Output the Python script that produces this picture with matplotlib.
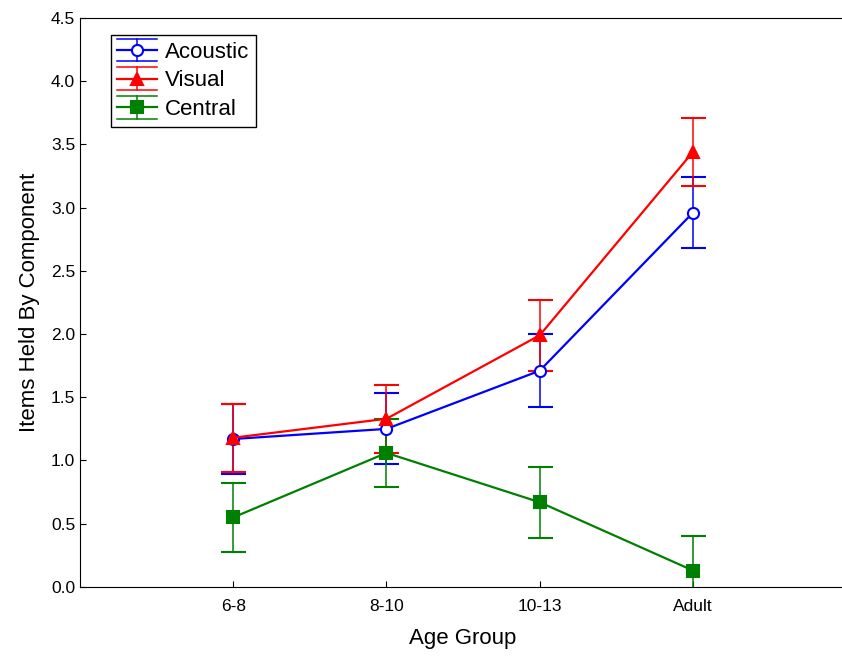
import matplotlib
matplotlib.use("Agg")
import matplotlib.pyplot as plt
from matplotlib.lines import Line2D
from matplotlib.legend_handler import HandlerBase
import numpy as np

plt.rcParams['font.family'] = ['Liberation Sans', 'DejaVu Sans']

groups = ["6-8", "8-10", "10-13", "Adult"]

acoustic = [1.17, 1.25, 1.71, 2.96]
acoustic_err = [0.28, 0.28, 0.29, 0.28]
visual = [1.18, 1.33, 1.99, 3.44]
visual_err = [0.27, 0.27, 0.28, 0.27]
central = [0.55, 1.06, 0.67, 0.13]
central_err = [0.27, 0.27, 0.28, 0.27]


class CapHandler(HandlerBase):
    # legend key: line + marker with wide horizontal caps above and below
    def create_artists(self, legend, orig, xd, yd, w, h, fs, trans):
        yc = h / 2 - yd
        dy = 0.72 * h
        x0, x1 = -xd, -xd + w
        xm = (x0 + x1) / 2
        c = orig.get_color()
        arts = [
            Line2D([x0, x1], [yc, yc], color=c, lw=1.6),
            Line2D([x0, x1], [yc + dy, yc + dy], color=c, lw=1.1),
            Line2D([x0, x1], [yc - dy, yc - dy], color=c, lw=1.1),
            Line2D([xm, xm], [yc - dy, yc + dy], color=c, lw=1.1),
            Line2D([xm], [yc], ls='none', marker=orig.get_marker(),
                   mfc=orig.get_markerfacecolor(), mec=c,
                   mew=orig.get_markeredgewidth(), ms=orig.get_markersize()),
        ]
        for a in arts:
            a.set_transform(trans)
        return arts


x = np.arange(1, len(groups) + 1)

fig = plt.figure(figsize=(8.42, 6.61), dpi=100)
ax = fig.add_axes([0.095, 0.112, 0.91, 0.861])

styles = [
    ("Acoustic", acoustic, acoustic_err, 'blue', 'o', 'white', 8),
    ("Visual", visual, visual_err, 'red', '^', 'red', 9),
    ("Central", central, central_err, 'green', 's', 'green', 9),
]

handles = []
for label, vals, err, col, mk, mfc, ms in styles:
    ax.errorbar(x, vals, yerr=err, color=col, marker=mk, mfc=mfc, mec=col,
                mew=1.5, markersize=ms, lw=1.6, elinewidth=1.1, capsize=9,
                capthick=1.1, zorder=3)
    handles.append(Line2D([], [], color=col, marker=mk, mfc=mfc, mec=col,
                          mew=1.5, ms=ms, label=label))

ax.set_xlim(0, 5)
ax.set_ylim(0, 4.5)
ax.set_xticks(x)
ax.set_xticklabels(groups)
ax.set_yticks(np.arange(0, 4.51, 0.5))
ax.set_yticklabels([f"{v:.1f}" for v in np.arange(0, 4.51, 0.5)])
ax.tick_params(direction='in', labelsize=12.5, length=4)
ax.tick_params(axis='x', pad=9)
ax.set_xlabel("Age Group", fontsize=16, labelpad=10)
ax.set_ylabel("Items Held By Component", fontsize=16, labelpad=8)

leg = ax.legend(handles=handles, handler_map={Line2D: CapHandler()},
                loc='upper left', bbox_to_anchor=(0.04, 0.97), fontsize=16,
                fancybox=False, edgecolor='black', framealpha=1,
                handlelength=1.8, borderpad=0.3, labelspacing=0.35,
                handletextpad=0.35, borderaxespad=0)
leg.get_frame().set_linewidth(1.0)

fig.savefig("out.png", dpi=100)
